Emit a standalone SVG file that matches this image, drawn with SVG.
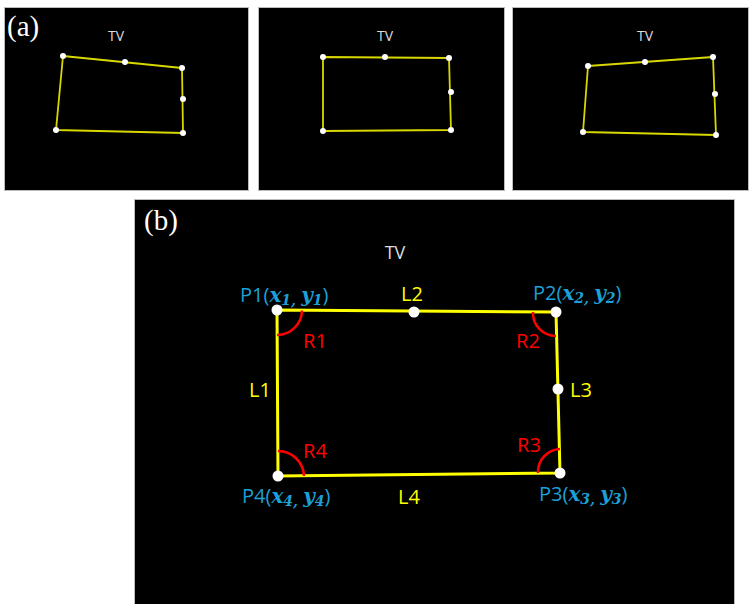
<svg xmlns="http://www.w3.org/2000/svg" width="751" height="604" viewBox="0 0 751 604">
<style>
.panel{fill:#000;stroke:#bbb;stroke-width:1}
.quad{fill:none;stroke:#d8d800;stroke-width:1.8;stroke-linejoin:round}
.qb{fill:none;stroke:#ffff00;stroke-width:3}
.dot{fill:#fff}
.tv{font-family:"Open Sans","Noto Sans",sans-serif;fill:#ddd;text-anchor:middle}
.tag{font-family:"Liberation Serif","Times New Roman",serif;font-size:29px;fill:#fff}
.lb{font-family:"Open Sans","Noto Sans",sans-serif;font-size:20px}
.y{fill:#ffff00}
.r{fill:#ff0000}
.b{fill:#1ba1d8}
.m{font-family:"DejaVu Serif",serif;font-style:italic;font-weight:bold}
.arc{fill:none;stroke:#ff0000;stroke-width:2.5}
</style>
<rect width="751" height="604" fill="#fff"/>
<g id="panel-a1">
<rect class="panel" x="4.5" y="7.5" width="244" height="183"/>
<text class="tag" x="7" y="36">(a)</text>
<text class="tv" x="116" y="41" font-size="14">TV</text>
<polygon class="quad" points="63,56 182,68 183,133 56,130"/>
<circle class="dot" cx="63" cy="56" r="3"/><circle class="dot" cx="125" cy="62" r="3"/><circle class="dot" cx="182" cy="68" r="3"/><circle class="dot" cx="183" cy="99" r="3"/><circle class="dot" cx="183" cy="133" r="3"/><circle class="dot" cx="56" cy="130" r="3"/>
</g>
<g id="panel-a2">
<rect class="panel" x="258.5" y="7.5" width="246" height="183"/>
<text class="tv" x="385" y="41" font-size="14">TV</text>
<polygon class="quad" points="323,57 449,58 451,130 323,131"/>
<circle class="dot" cx="323" cy="57" r="3"/><circle class="dot" cx="385" cy="57" r="3"/><circle class="dot" cx="449" cy="58" r="3"/><circle class="dot" cx="451" cy="92" r="3"/><circle class="dot" cx="451" cy="130" r="3"/><circle class="dot" cx="323" cy="131" r="3"/>
</g>
<g id="panel-a3">
<rect class="panel" x="512.5" y="7.5" width="236" height="183"/>
<text class="tv" x="645" y="41" font-size="14">TV</text>
<polygon class="quad" points="588,66 713,57 716,135 583,132"/>
<circle class="dot" cx="588" cy="66" r="3"/><circle class="dot" cx="645" cy="62" r="3"/><circle class="dot" cx="713" cy="57" r="3"/><circle class="dot" cx="715" cy="94" r="3"/><circle class="dot" cx="716" cy="135" r="3"/><circle class="dot" cx="583" cy="132" r="3"/>
</g>
<g id="panel-b">
<rect class="panel" x="134.5" y="199.5" width="600" height="405"/>
<text class="tag" x="144" y="230">(b)</text>
<text class="tv" x="395" y="259" font-size="18">TV</text>
</g>
<g id="connectors">
<polygon class="qb" points="277,310 556,312 560,473 278,476"/>
<path class="arc" d="M302,310.5 A25,25 0 0 1 277,335"/>
<path class="arc" d="M533,312 A23,23 0 0 0 556,336"/>
<path class="arc" d="M278,451 A26,26 0 0 1 304,476"/>
<path class="arc" d="M538,473 A23,23 0 0 1 560,449"/>
</g>
<g id="P1">
<circle class="dot" cx="277" cy="310" r="5.5"/>
<text class="lb b" x="240" y="302">P1(<tspan class="m">x</tspan><tspan class="m" font-size="14" dy="3">1,</tspan><tspan dy="-3"> </tspan><tspan class="m">y</tspan><tspan class="m" font-size="14" dy="3">1</tspan><tspan dy="-3">)</tspan></text>
</g>
<g id="P2">
<circle class="dot" cx="556" cy="312" r="5.5"/>
<text class="lb b" x="533" y="300">P2(<tspan class="m">x</tspan><tspan class="m" font-size="14" dy="3">2,</tspan><tspan dy="-3"> </tspan><tspan class="m">y</tspan><tspan class="m" font-size="14" dy="3">2</tspan><tspan dy="-3">)</tspan></text>
</g>
<g id="P3">
<circle class="dot" cx="560" cy="473" r="5.5"/>
<text class="lb b" x="539" y="501">P3(<tspan class="m">x</tspan><tspan class="m" font-size="14" dy="3">3,</tspan><tspan dy="-3"> </tspan><tspan class="m">y</tspan><tspan class="m" font-size="14" dy="3">3</tspan><tspan dy="-3">)</tspan></text>
</g>
<g id="P4">
<circle class="dot" cx="278" cy="476" r="5.5"/>
<text class="lb b" x="242" y="503">P4(<tspan class="m">x</tspan><tspan class="m" font-size="14" dy="3">4,</tspan><tspan dy="-3"> </tspan><tspan class="m">y</tspan><tspan class="m" font-size="14" dy="3">4</tspan><tspan dy="-3">)</tspan></text>
</g>
<g id="L2">
<circle class="dot" cx="414" cy="312" r="5.5"/>
<text class="lb y" x="412" y="301" text-anchor="middle">L2</text>
</g>
<g id="L3">
<circle class="dot" cx="558" cy="389" r="5.5"/>
<text class="lb y" x="581" y="397" text-anchor="middle">L3</text>
</g>
<g id="L1"><text class="lb y" x="260" y="397" text-anchor="middle">L1</text></g>
<g id="L4"><text class="lb y" x="409" y="504" text-anchor="middle">L4</text></g>
<g id="R1"><text class="lb r" x="315" y="348" text-anchor="middle">R1</text></g>
<g id="R2"><text class="lb r" x="528" y="348" text-anchor="middle">R2</text></g>
<g id="R3"><text class="lb r" x="529" y="452" text-anchor="middle">R3</text></g>
<g id="R4"><text class="lb r" x="315" y="458" text-anchor="middle">R4</text></g>
</svg>
